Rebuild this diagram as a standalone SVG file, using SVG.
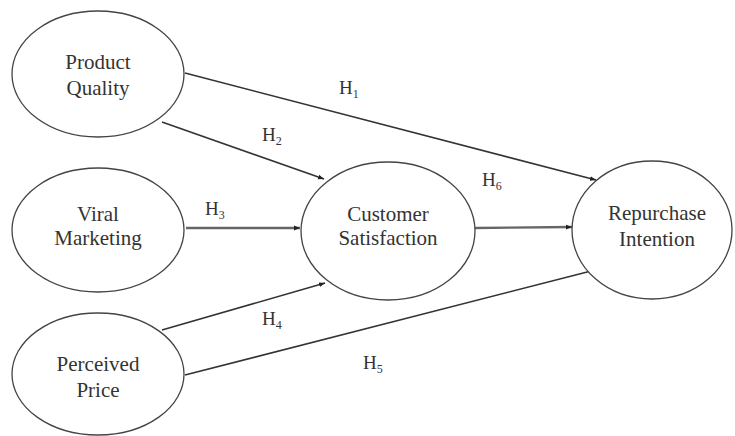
<svg xmlns="http://www.w3.org/2000/svg" width="735" height="436" viewBox="0 0 735 436">
<defs>
<marker id="ah" viewBox="0 0 10 10" refX="10" refY="5" markerWidth="6" markerHeight="6" orient="auto" markerUnits="userSpaceOnUse">
<path d="M0,1 L10,5 L0,9 z" fill="#222"/>
</marker>
<style>
.n{fill:#fff;stroke:#444;stroke-width:1.3}
.t{font-size:21px;fill:#333;text-anchor:middle}
.l{font-size:19px;fill:#333}
.s{font-size:12px}
.c{stroke:#333;stroke-width:1.6;fill:none;marker-end:url(#ah)}
.g{stroke:#666;stroke-width:2.4}
</style>
</defs>
<rect width="735" height="436" fill="#fff"/>
<g id="connectors" font-family="'Liberation Serif', 'DejaVu Serif', 'Times New Roman', serif">
<line class="c" x1="185" y1="73" x2="596" y2="180"/>
<line class="c" x1="162" y1="122" x2="324" y2="179"/>
<line class="c g" x1="186" y1="228" x2="300" y2="228"/>
<line class="c" x1="162" y1="330" x2="325" y2="283"/>
<line class="c" x1="185" y1="375" x2="595" y2="270"/>
<line class="c g" x1="475" y1="228" x2="572" y2="227"/>
<text class="l" x="339" y="94">H<tspan class="s" dy="4">1</tspan></text>
<text class="l" x="262" y="141">H<tspan class="s" dy="4">2</tspan></text>
<text class="l" x="205" y="215">H<tspan class="s" dy="4">3</tspan></text>
<text class="l" x="482" y="186">H<tspan class="s" dy="4">6</tspan></text>
<text class="l" x="262" y="325">H<tspan class="s" dy="4">4</tspan></text>
<text class="l" x="363" y="369">H<tspan class="s" dy="4">5</tspan></text>
</g>
<g id="product-quality" font-family="'Liberation Serif', 'DejaVu Serif', 'Times New Roman', serif">
<ellipse class="n" cx="98" cy="74" rx="86" ry="63"/>
<text class="t" x="98" y="69">Product</text>
<text class="t" x="98" y="95">Quality</text>
</g>
<g id="viral-marketing" font-family="'Liberation Serif', 'DejaVu Serif', 'Times New Roman', serif">
<ellipse class="n" cx="98" cy="230" rx="86" ry="62"/>
<text class="t" x="98" y="221">Viral</text>
<text class="t" x="98" y="245">Marketing</text>
</g>
<g id="perceived-price" font-family="'Liberation Serif', 'DejaVu Serif', 'Times New Roman', serif">
<ellipse class="n" cx="98" cy="374" rx="86" ry="61"/>
<text class="t" x="98" y="371">Perceived</text>
<text class="t" x="98" y="397">Price</text>
</g>
<g id="customer-satisfaction" font-family="'Liberation Serif', 'DejaVu Serif', 'Times New Roman', serif">
<ellipse class="n" cx="388" cy="231" rx="87" ry="69"/>
<text class="t" x="388" y="221">Customer</text>
<text class="t" x="388" y="245">Satisfaction</text>
</g>
<g id="repurchase-intention" font-family="'Liberation Serif', 'DejaVu Serif', 'Times New Roman', serif">
<ellipse class="n" cx="652" cy="230" rx="80" ry="69"/>
<text class="t" x="657" y="220">Repurchase</text>
<text class="t" x="657" y="246">Intention</text>
</g>
</svg>
